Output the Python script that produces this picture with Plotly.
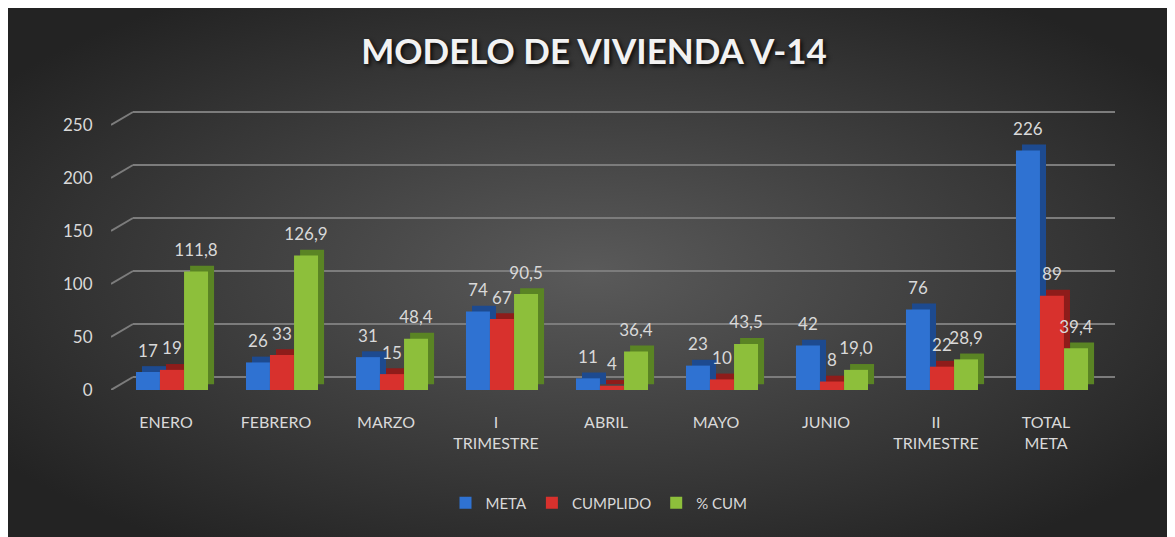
import base64

import plotly.graph_objects as go


CATEGORIES = [
    "ENERO", "FEBRERO", "MARZO", "I<br>TRIMESTRE", "ABRIL",
    "MAYO", "JUNIO", "II<br>TRIMESTRE", "TOTAL<br>META",
]
META = [17, 26, 31, 74, 11, 23, 42, 76, 226]
CUMPLIDO = [19, 33, 15, 67, 4, 10, 8, 22, 89]
PCT_CUM = [111.8, 126.9, 48.4, 90.5, 36.4, 43.5, 19.0, 28.9, 39.4]
Y_TICKS = [0, 50, 100, 150, 200, 250]

# page body adds an 8px margin, so the figure is 8px smaller and
# positions below are given in screen pixels, shifted by PAD
PAD = 8
W, H = 1175 - PAD, 537 - PAD
FONT = "Lato"
TEXT_COLOR = "#d9d9d9"
GRID_COLOR = "#7c7c7c"
Y_MAX = 270
SCALE = 1.06  # px per unit

# (name, values, front colour, side colour, offset, label format)
SERIES = [
    ("META", META, "#2f72d2", "#1d4a8f", -0.273, "%{y}"),
    ("CUMPLIDO", CUMPLIDO, "#d8312d", "#8e1c1a", -0.055, "%{y}"),
    ("% CUM", PCT_CUM, "#8dbf3b", "#5a8424", 0.164, "%{y:.1f}"),
]
BAR_W = 0.218
DEPTH_X = 0.055   # side face shift, category units
DEPTH_Y = 5.5     # side face shift, value units
LABEL_LIFT = 8    # data labels sit above the 3d top face


def px_x(p):
    return (p - PAD) / W


def px_y(p):
    return 1 - (p - PAD) / H


# dark radial background (Excel style)
svg = (
    '<svg xmlns="http://www.w3.org/2000/svg" width="1167" height="529">'
    '<defs><radialGradient id="g" cx="50%" cy="50%" r="62%">'
    '<stop offset="0" stop-color="#5a5a5a"/><stop offset="1" stop-color="#232323"/>'
    '</radialGradient></defs><rect width="100%" height="100%" fill="url(#g)"/></svg>'
)
bg_src = "data:image/svg+xml;base64," + base64.b64encode(svg.encode()).decode()

fig = go.Figure()

# empty trace so the back-wall grid subplot exists
fig.add_trace(go.Scatter(x=[], y=[], xaxis="x", yaxis="y", showlegend=False, hoverinfo="skip"))

for name, vals, col, side, off, fmt in SERIES:
    fig.add_trace(go.Bar(
        x=CATEGORIES, y=vals, base=DEPTH_Y, xaxis="x2", yaxis="y2",
        offset=off + DEPTH_X, width=BAR_W, marker=dict(color=side, line=dict(width=0)),
        showlegend=False, hoverinfo="skip",
    ))
    fig.add_trace(go.Bar(
        x=CATEGORIES, y=vals, name=name, xaxis="x2", yaxis="y2",
        offset=off, width=BAR_W, marker=dict(color=col, line=dict(width=0)),
    ))

# labels drawn last so no bar covers them
for name, vals, col, side, off, fmt in SERIES:
    fig.add_trace(go.Bar(
        x=CATEGORIES, y=vals, base=LABEL_LIFT, xaxis="x2", yaxis="y2",
        offset=off, width=BAR_W, marker=dict(color="rgba(0,0,0,0)", line=dict(width=0)),
        texttemplate=fmt, textposition="outside", constraintext="none", cliponaxis=False,
        textfont=dict(family=FONT, size=17, color=TEXT_COLOR),
        showlegend=False, hoverinfo="skip",
    ))

# diagonal stubs joining front tick labels to the back-wall gridlines
shapes = [
    dict(type="line", xref="x2", yref="y2",
         xsizemode="pixel", xanchor=-0.5, x0=0, x1=22,
         ysizemode="pixel", yanchor=v, y0=0, y1=13,
         line=dict(color=GRID_COLOR, width=2), layer="below")
    for v in Y_TICKS
]

fig.update_layout(
    width=W, height=H,
    margin=dict(l=0, r=0, t=0, b=0),
    paper_bgcolor="#2a2a2a",
    plot_bgcolor="rgba(0,0,0,0)",
    barmode="overlay",
    separators=",.",
    font=dict(family=FONT, color=TEXT_COLOR),
    images=[dict(source=bg_src, xref="paper", yref="paper", x=0, y=1,
                 sizex=1, sizey=1, sizing="stretch",
                 xanchor="left", yanchor="top", layer="below")],
    shapes=shapes,
    title=dict(
        text="MODELO DE VIVIENDA V-14", x=px_x(594), y=px_y(52),
        xanchor="center", yanchor="middle", xref="paper", yref="paper",
        font=dict(family=FONT, size=35, color="#f2f2f2", weight="bold",
                  shadow="2px 2px 4px rgba(0,0,0,0.85)"),
    ),
    # back wall gridlines
    xaxis=dict(domain=[px_x(133), px_x(1115)], range=[0, 1], visible=False, fixedrange=True),
    yaxis=dict(domain=[px_y(377), px_y(377 - SCALE * Y_MAX)], range=[0, Y_MAX],
               tickvals=Y_TICKS, showticklabels=False, showgrid=True,
               gridcolor=GRID_COLOR, gridwidth=2, zeroline=True,
               zerolinecolor=GRID_COLOR, zerolinewidth=2, showline=False, automargin=False),
    # bars and front labels
    xaxis2=dict(domain=[px_x(111), px_x(1101)], range=[-0.5, 8.5], anchor="y2",
                type="category", showgrid=False, zeroline=False, showline=False,
                ticks="outside", ticklen=18, tickcolor="rgba(0,0,0,0)",
                tickfont=dict(family=FONT, size=16, color=TEXT_COLOR), automargin=False),
    yaxis2=dict(domain=[px_y(390), px_y(390 - SCALE * Y_MAX)], range=[0, Y_MAX], anchor="x2",
                tickvals=Y_TICKS, showgrid=False, zeroline=False, showline=False,
                ticks="outside", ticklen=14, tickcolor="rgba(0,0,0,0)",
                tickfont=dict(family=FONT, size=17, color=TEXT_COLOR), automargin=False),
    legend=dict(orientation="h", x=px_x(599), y=px_y(503), xanchor="center", yanchor="middle",
                bgcolor="rgba(0,0,0,0)", font=dict(family=FONT, size=15, color=TEXT_COLOR),
                itemwidth=30),
)

fig.write_html("out.html")
